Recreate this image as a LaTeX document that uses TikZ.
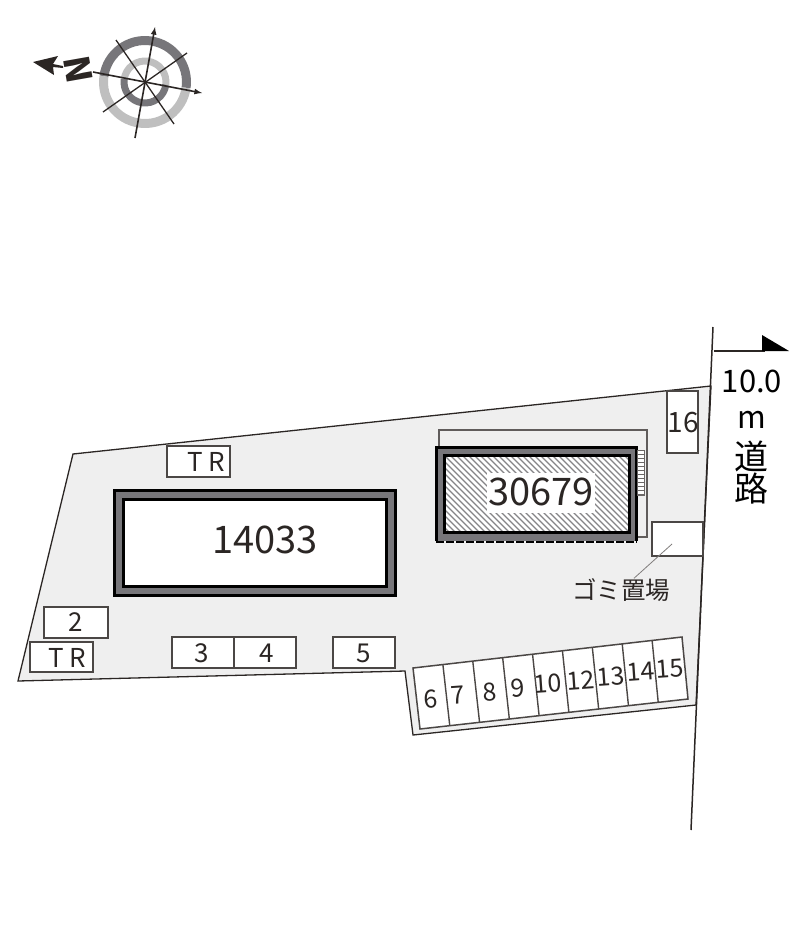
\documentclass[tikz,border=0pt]{standalone}
\usepackage{fontspec}
\setmainfont{Noto Sans CJK JP}
\usetikzlibrary{calc}
\definecolor{ink}{HTML}{2B2624}
\definecolor{sitegray}{HTML}{EFEFEF}
\definecolor{bandgray}{HTML}{77767A}
\tikzset{
  lotbox/.style={draw=ink!85,line width=1.5pt,fill=white},
  lbl/.style={inner sep=0pt,text=ink,font=\fontsize{26}{26}\selectfont},
  biglbl/.style={inner sep=0pt,text=ink,font=\fontsize{38}{38}\selectfont},
  trlbl/.style={inner sep=0pt,text=ink,font=\fontsize{26}{26}\selectfont},
  roadlbl/.style={inner sep=0pt,text=black,font=\fontsize{31}{31}\selectfont},
}
\begin{document}
\begin{tikzpicture}[x=1pt,y=-1pt]
    \useasboundingbox (0,0) rectangle (800,940);
    % site
    \draw[fill=sitegray,draw=ink,line width=1.3pt] (73,454) -- (711,386) -- (696,705) -- (413,735) -- (405,671) -- (18,681) -- cycle;
    % road
    \draw[ink,line width=1.5pt] (713,327) -- (691,830);
    \draw[ink,line width=1.5pt] (714,351) -- (765,351);
    \fill[black] (762,335) -- (789,351) -- (762,351) -- cycle;
    \node[roadlbl] (v10) at (752,381) {10.0};
    \node[roadlbl] (vm) at (752,420) {m};
    \node[roadlbl,font=\fontsize{34}{34}\selectfont] (vdo) at (751,456) {道};
    \node[roadlbl,font=\fontsize{34}{34}\selectfont] (vro) at (751,489) {路};
    % building 14033
    \draw[fill=bandgray,draw=black,line width=3pt] (114.5,490.5) rectangle (395.5,595.5);
    \draw[fill=white,draw=black,line width=3pt] (123.5,499.5) rectangle (386.5,586.5);
    \node[biglbl] (v14033) at (265,540) {14033};
    % building 30679
    \draw[draw=ink!75,line width=1.4pt,fill=sitegray] (439,430) rectangle (647,537);
    \fill[bandgray] (436,447) rectangle (637,541);
    \draw[black,line width=3pt] (436.5,541) -- (436.5,447.5) -- (636,447.5) -- (636,541);
    \draw[black,line width=2pt,dash pattern=on 8pt off 2pt] (436,541.5) -- (637,541.5);
    \fill[white] (445,456) rectangle (629,532);
    \begin{scope}
      \clip (445,456) rectangle (629,532);
      \foreach \k in {-84,-78,...,184}
        \draw[bandgray!90,line width=1.3pt] (445+\k,456) -- (445+\k+76,532);
    \end{scope}
    \draw[black,line width=3pt] (444.5,455.5) rectangle (629,532.5);
    \fill[white] (487,473) rectangle (595,513);
    \node[biglbl] (v30679) at (541,492) {30679};
    % stairs
    \draw[fill=white,draw=ink!70,line width=.8pt] (637,450) rectangle (644,495);
    \foreach \t in {454,458,...,494}
      \draw[ink!70,line width=.8pt] (637,\t) -- (644,\t);
    % lots on the road side
    \draw[lotbox] (667,391) rectangle (698,453);
    \node[lbl,font=\fontsize{28}{28}\selectfont] (v16) at (683,423) {16};
    \draw[lotbox] (652,522) rectangle (703,556);
    \coordinate (bin) at (672,544);
    \node[lbl,font=\fontsize{24.5}{24.5}\selectfont] (vgomi) at (621,590) {ゴミ置場};
    \draw[ink!60,line width=.8pt] (bin) -- (vgomi);
    % lots on the left
    \draw[lotbox] (167,446) rectangle (230,477);
    \node[trlbl] (vtr1) at (206,462) {T R};
    \draw[lotbox] (44,607) rectangle (108,638);
    \node[lbl] (v2) at (76,622) {2};
    \draw[lotbox] (30,642) rectangle (93,672);
    \node[trlbl] (vtr2) at (67,658) {T R};
    \draw[lotbox] (172,637) rectangle (296,668);
    \draw[ink!85,line width=1.5pt] (234,637) -- (234,668);
    \node[lbl] (v3) at (202,653) {3};
    \node[lbl] (v4) at (267,653) {4};
    \draw[lotbox] (333,637) rectangle (395,668);
    \node[lbl] (v5) at (364,653) {5};
    % lots at the bottom
    \coordinate (tl) at (413,668);
    \coordinate (tr) at (682,637);
    \coordinate (br) at (688,699);
    \coordinate (bl) at (420,729);
    \draw[lotbox] (tl) -- (tr) -- (br) -- (bl) -- cycle;
    \foreach \i in {1,...,8}
      \draw[ink!85,line width=1.4pt] ($(tl)!\i/9!(tr)$) -- ($(bl)!\i/9!(br)$);
    \foreach \n/\x/\y in {6/431/699,7/458/695,8/490/692,9/518/688,10/548/684,12/581/680,13/611/677,14/641/672,15/670/669}
      \node[lbl,font=\fontsize{25}{25}\selectfont,rotate=4] (v\n) at (\x,\y) {\n};
    % compass
    \draw[bandgray,line width=9pt] (145,82) ++(188:41.5) arc[start angle=188,end angle=368,radius=41.5];
    \draw[black!25,line width=9pt] (145,82) ++(8:41.5) arc[start angle=8,end angle=188,radius=41.5];
    \draw[black!25,line width=7pt] (145,82) ++(188:21) arc[start angle=188,end angle=368,radius=21];
    \draw[bandgray,line width=7pt] (145,82) ++(8:21) arc[start angle=8,end angle=188,radius=21];
    \draw[ink,line width=1.3pt] (116,40) -- (174,124);
    \draw[ink,line width=1.3pt] (187,53) -- (103,112);
    \draw[ink,line width=1.6pt,-latex] (93,72) -- (202,93);
    \draw[ink,line width=1.6pt,-latex] (135,138) -- (155,27);
    \fill[ink,line width=1pt] (33,62) -- (58,56) -- (53,64) -- (63,66) -- (63,68) -- (53,67) -- (54,75) -- cycle;
    \node[inner sep=0pt,text=ink,rotate=100,font=\fontsize{35}{35}\selectfont\bfseries] (vN) at (78,70) {N};
  \end{tikzpicture}
\end{document}
